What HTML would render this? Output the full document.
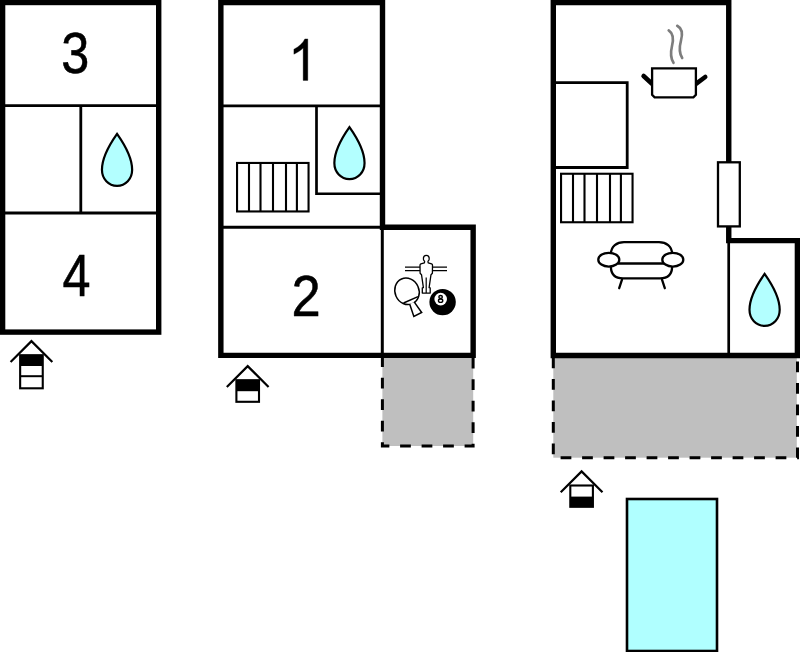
<!DOCTYPE html>
<html>
<head>
<meta charset="utf-8">
<title>Floor plan</title>
<style>
html,body{margin:0;padding:0;background:#fff;}
body{width:800px;height:652px;overflow:hidden;}
svg{display:block;}
text{font-family:"Liberation Sans",sans-serif;fill:#000;}
.num{stroke:#000;stroke-width:0.55;}
</style>
</head>
<body>
<svg width="800" height="652" viewBox="0 0 800 652">
<rect x="0" y="0" width="800" height="652" fill="#fff"/>

<!-- ================= LEFT PLAN ================= -->
<g id="left">
  <rect x="2.6" y="2.5" width="156.1" height="329.6" fill="#fff" stroke="#000" stroke-width="5.4"/>
  <path d="M5,105.7H156 M5,213H156 M80.8,105.7V213" fill="none" stroke="#000" stroke-width="2.8"/>
  <path transform="translate(117.05,132)" d="M0,1.9 C7.5,12.5 15.1,25 15.1,37.8 C15.1,47 8.5,53.9 0,53.9 C-8.5,53.9 -15.1,47 -15.1,37.8 C-15.1,25 -7.5,12.5 0,1.9 Z" fill="#b3ffff" stroke="#000" stroke-width="2.2" stroke-linejoin="miter"/>
  <text class="num" transform="translate(61.3,72.65) scale(0.878,1)" font-size="57.4">3</text>
  <text class="num" transform="translate(62.4,295.6) scale(0.845,1)" font-size="59.6">4</text>
  <!-- house icon 3 floors -->
  <g transform="translate(31.45,339.9)">
    <path d="M-20.1,21.3 L0,1.2 L20.1,21.3" fill="none" stroke="#000" stroke-width="2.2" stroke-linecap="square" stroke-linejoin="miter"/>
    <rect x="-11.3" y="15.3" width="22.6" height="33.1" fill="#fff" stroke="#000" stroke-width="2.1"/>
    <rect x="-11.3" y="15.3" width="22.6" height="10.8" fill="#000"/>
    <path d="M-11.3,36.3H11.3" stroke="#000" stroke-width="2"/>
  </g>
</g>

<!-- ================= MIDDLE PLAN ================= -->
<g id="middle">
  <!-- terrace -->
  <rect x="382.4" y="356" width="90.8" height="90" fill="#bfbfbf"/>
  <path d="M382.4,356.2V446H473.1V356.2" fill="none" stroke="#000" stroke-width="3" stroke-dasharray="10.75 10.75"/>
  <!-- outer walls -->
  <path d="M220.85,355.4V2.5H382.5V227.25H473.15V355.4Z" fill="#fff" stroke="#000" stroke-width="5.4" stroke-linejoin="miter"/>
  <!-- inner lines -->
  <path d="M223,105.8H380 M316.5,105.8V193.75H380" fill="none" stroke="#000" stroke-width="2.7"/>
  <path d="M223,227.2H381" fill="none" stroke="#000" stroke-width="3"/>
  <path d="M382.3,229V353" fill="none" stroke="#000" stroke-width="3"/>
  <g transform="translate(236,161.9)" fill="none" stroke="#000" stroke-width="2.1"><rect x="1.05" y="1.05" width="71.5" height="48.5" fill="#fff"/>
    <path d="M13,1V49.6 M24.5,1V49.6 M37,1V49.6 M50,1V49.6 M60.9,1V49.6"/></g>
  <path transform="translate(349.45,125.3)" d="M0,1.9 C7.5,12.5 15.1,25 15.1,37.8 C15.1,47 8.5,53.9 0,53.9 C-8.5,53.9 -15.1,47 -15.1,37.8 C-15.1,25 -7.5,12.5 0,1.9 Z" fill="#b3ffff" stroke="#000" stroke-width="2.2" stroke-linejoin="miter"/>
  <path transform="translate(288.16,80.4) scale(0.02574,-0.02819)" d="M763,0H583V1147Q518,1085 412.5,1023Q307,961 223,930V1104Q374,1175 487,1276Q600,1377 647,1472H763Z" fill="#000" stroke="#000" stroke-width="12"/>
  <text class="num" transform="translate(291.4,316.1) scale(0.9,1)" font-size="58.3">2</text>
  <!-- games icon -->
  <g id="games" fill="none" stroke="#000" stroke-width="1.3">
    <!-- rods -->
    <path d="M405,267.1H420.3 M432.2,267.1H447" stroke-width="1.45"/><path d="M405,270.5H420.3 M432.2,270.5H447" stroke-width="1.25"/>
    <!-- figure -->
    <path d="M424.6,261.4 C422.8,260.2 422.7,255.3 426.3,255.3 C429.9,255.3 429.8,260.2 428,261.4 L428.2,262.9 L431.6,263.9 Q432.5,264.3 432.5,265.3 L432.4,273.3 L431,274.7 L429.1,287.6 L430.2,287.9 L430.2,293.1 L422.3,293.1 L422.3,287.9 L423.4,287.6 L421.5,274.7 L420.1,273.3 L420,265.3 Q420,264.3 420.9,263.9 L424.4,262.9 Z" fill="#fff" stroke-linejoin="round"/>
    <path d="M426.2,277.6 V293" stroke-width="1.2"/>
    <!-- paddle -->
    <g transform="translate(406.6,290.4) rotate(-24)" stroke-width="1.5">
      <ellipse cx="0" cy="1.0" rx="12" ry="13.5" fill="#fff"/>
      <path d="M-2.7,13.6 L-4,26.8 L4.8,26.3 L2.2,13.6" fill="#fff" stroke-linejoin="miter"/>
      <path d="M-7.9,10.3 H7.9"/>
    </g>
    <!-- 8 ball -->
    <circle cx="442.6" cy="302.1" r="13.2" fill="#000" stroke="none"/>
    <circle cx="440.7" cy="299.1" r="6.3" fill="#fff" stroke="none"/>
    <ellipse cx="440.6" cy="297" rx="1.75" ry="1.45" stroke-width="1.4"/>
    <ellipse cx="440.6" cy="300.65" rx="2.15" ry="1.7" stroke-width="1.4"/>
  </g>
  <!-- house icon 2 floors, top black -->
  <g transform="translate(247.7,364.9)">
    <path d="M-20.1,21.3 L0,1.2 L20.1,21.3" fill="none" stroke="#000" stroke-width="2.2" stroke-linecap="square" stroke-linejoin="miter"/>
    <rect x="-11.3" y="15.3" width="22.6" height="21.6" fill="#fff" stroke="#000" stroke-width="2.1"/>
    <rect x="-11.3" y="15.3" width="22.6" height="11" fill="#000"/>
  </g>
</g>

<!-- ================= RIGHT PLAN ================= -->
<g id="right">
  <!-- terrace -->
  <rect x="553.3" y="356" width="243.5" height="101.7" fill="#bfbfbf"/>
  <path d="M553.3,357.6V457.8H797.5V357.2" fill="none" stroke="#000" stroke-width="3" stroke-dasharray="10.75 10.75"/>
  <!-- outer walls -->
  <path d="M553.3,355.5V2.5H728.75V240.6H797.4V355.5Z" fill="#fff" stroke="#000" stroke-width="5.4" stroke-linejoin="miter"/>
  <path d="M728.7,242V353" fill="none" stroke="#000" stroke-width="2.7"/>
  <!-- inner rect -->
  <path d="M556,82.7H627.2V167.5H556" fill="none" stroke="#000" stroke-width="2.8"/>
  <g transform="translate(560,172.7)" fill="none" stroke="#000" stroke-width="2.1"><rect x="1.05" y="1.05" width="71.5" height="48.5" fill="#fff"/>
    <path d="M13,1V49.6 M24.5,1V49.6 M37,1V49.6 M50,1V49.6 M60.9,1V49.6"/></g>
  <!-- window -->
  <rect x="718" y="162.3" width="21.8" height="64.1" fill="#fff" stroke="#000" stroke-width="2.3"/>
  <!-- pot -->
  <g id="pot">
    <path d="M668.7,30.4 C674,34 673.5,40 672,46 C670.3,53 670.5,58 673.5,62.8" fill="none" stroke="#7d7d7d" stroke-width="2.65" stroke-linecap="round"/>
    <path d="M677.2,25.8 C682.5,28.5 682.6,34.5 681,40.5 C679,48 679,53 682.2,58" fill="none" stroke="#7d7d7d" stroke-width="2.65" stroke-linecap="round"/>
    <path d="M643.6,76 L652,83.8 M705.2,77 L696.3,83.7" fill="none" stroke="#000" stroke-width="4.6" stroke-linecap="round"/>
    <path d="M652.1,68.3H695.9V94.8L693.4,97.4H654.6L652.1,94.8Z" fill="#fff" stroke="#000" stroke-width="2.3" stroke-linejoin="miter"/>
  </g>
  <!-- sofa -->
  <g id="sofa" fill="#fff" stroke="#000" stroke-width="2.3">
    <path d="M622,279.6 L619.2,288.2 M662,279.6 L664.8,288.2" stroke-linecap="round"/>
    <path d="M610.9,266.5 C610.9,275 616,278.4 623,278.4 H660 C667,278.4 672.1,275 672.1,266.5 V254 C672.1,246 666,242.1 659,242.1 H624 C617,242.1 610.9,246 610.9,254 Z"/>
    <path d="M618,263.5H664"/>
    <ellipse cx="608.8" cy="259.7" rx="10.5" ry="6.9"/>
    <ellipse cx="672.8" cy="259.7" rx="10.5" ry="6.9"/>
  </g>
  <path transform="translate(764.6,272)" d="M0,1.9 C7.5,12.5 15.1,25 15.1,37.8 C15.1,47 8.5,53.9 0,53.9 C-8.5,53.9 -15.1,47 -15.1,37.8 C-15.1,25 -7.5,12.5 0,1.9 Z" fill="#b3ffff" stroke="#000" stroke-width="2.2" stroke-linejoin="miter"/>
  <!-- house icon 2 floors, bottom black -->
  <g transform="translate(581.6,470.2)">
    <path d="M-20.1,21.3 L0,1.2 L20.1,21.3" fill="none" stroke="#000" stroke-width="2.2" stroke-linecap="square" stroke-linejoin="miter"/>
    <rect x="-11.3" y="15.3" width="22.6" height="21.3" fill="#fff" stroke="#000" stroke-width="2.1"/>
    <rect x="-11.3" y="26.4" width="22.6" height="10.2" fill="#000"/>
  </g>
  <!-- pool -->
  <rect x="627" y="499" width="90" height="152" fill="#b0ffff" stroke="#000" stroke-width="2.6"/>
</g>
</svg>
</body>
</html>
